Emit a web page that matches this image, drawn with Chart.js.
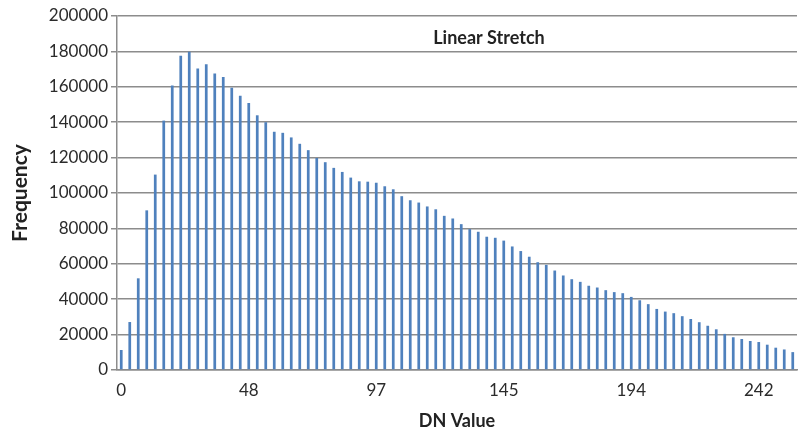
<!DOCTYPE html>
<html>
<head>
<meta charset="utf-8">
<script src="https://cdn.jsdelivr.net/npm/chart.js@4"></script>
<style>
  html, body { margin: 0; padding: 0; background: #fff; }
  #wrap { width: 799px; height: 429px; }
</style>
</head>
<body>
<div id="wrap"><canvas id="histChart" width="799" height="429"></canvas></div>
<script>
// DN values of the stretched bins (categories)
const dnValues = [
  0, 3, 6, 10, 13, 16, 19, 23, 26, 29, 32, 36, 39, 42, 45, 48, 52, 55, 58, 61,
  65, 68, 71, 74, 77, 81, 84, 87, 90, 94, 97, 100, 103, 107, 110, 113, 116, 119, 123, 126,
  129, 132, 136, 139, 142, 145, 148, 152, 155, 158, 161, 165, 168, 171, 174, 178, 181, 184, 187, 190,
  194, 197, 200, 203, 207, 210, 213, 216, 219, 223, 226, 229, 232, 236, 239, 242, 245, 249, 252, 255
];

// frequency per bin
const frequency = [
  11300, 27100, 51800, 90200, 110400, 140900, 160700, 177600, 179800, 170300,
  172800, 167500, 165600, 159500, 155000, 150900, 143900, 140000, 134600, 134000,
  131400, 127800, 124200, 119800, 117400, 114200, 111900, 108700, 106600, 106400,
  105800, 103800, 102100, 98200, 95900, 94600, 92400, 90800, 87100, 85600,
  82400, 79600, 78100, 75300, 74700, 73100, 69800, 67200, 64000, 60900,
  59400, 56200, 53400, 51300, 49800, 47600, 46600, 45100, 44000, 43400,
  41300, 39400, 37200, 34500, 33000, 32100, 30400, 28800, 27000, 25000,
  23000, 20400, 18500, 17500, 16400, 15800, 14300, 12600, 11600, 10100
];

// x labels that are shown
const xTickLabels = ['0', '48', '97', '145', '194', '242'];
const yMax = 200000;
const yStep = 20000;

const fontName = 'Lato, "Open Sans", sans-serif';
const gridColor = '#8c8c8c';

// draws the "Linear Stretch" note inside the plot
const noteLabel = {
  id: 'noteLabel',
  afterDraw(chart) {
    const ctx = chart.ctx;
    const area = chart.chartArea;
    ctx.save();
    ctx.font = 'bold 18px ' + fontName;
    ctx.fillStyle = '#222';
    ctx.textAlign = 'center';
    ctx.textBaseline = 'middle';
    ctx.fillText('Linear Stretch', area.left + (area.right - area.left) * 0.547, area.top + 22);
    ctx.restore();
  }
};

const ctx = document.getElementById('histChart').getContext('2d');
new Chart(ctx, {
  type: 'bar',
  data: {
    labels: dnValues.map(String),
    datasets: [{
      data: frequency,
      backgroundColor: '#4f81bd',
      barPercentage: 0.32,
      categoryPercentage: 1.0
    }]
  },
  options: {
    responsive: false,
    animation: false,
    layout: { padding: { top: 16, right: 2, left: 0, bottom: 0 } },
    plugins: {
      legend: { display: false },
      tooltip: { enabled: false }
    },
    scales: {
      x: {
        grid: { display: false },
        border: { display: true, color: gridColor, width: 1.5 },
        ticks: {
          autoSkip: false,
          maxRotation: 0,
          color: '#2b2b2b',
          font: { family: fontName, size: 17 },
          padding: 2,
          callback: function(val) {
            const lab = this.getLabelForValue(val);
            return xTickLabels.includes(lab) ? lab : '';
          }
        },
        title: {
          display: true,
          text: 'DN Value',
          color: '#222',
          font: { family: fontName, size: 18, weight: 'bold' },
          padding: { top: 6, bottom: -3 }
        },
        afterFit(scale) { scale.height = 59; }
      },
      y: {
        min: 0,
        max: yMax,
        grid: { color: gridColor, lineWidth: 1.5, tickLength: 6 },
        border: { color: gridColor, width: 1.5 },
        ticks: {
          stepSize: yStep,
          color: '#2b2b2b',
          font: { family: fontName, size: 17 },
          padding: 3,
          callback: (v) => String(v)
        },
        title: {
          display: true,
          text: 'Frequency',
          color: '#222',
          font: { family: fontName, size: 21, weight: 'bold' },
          padding: { top: 8, bottom: 0 }
        },
        afterFit(scale) { scale.width = 117; }
      }
    }
  },
  plugins: [noteLabel]
});
</script>
</body>
</html>
